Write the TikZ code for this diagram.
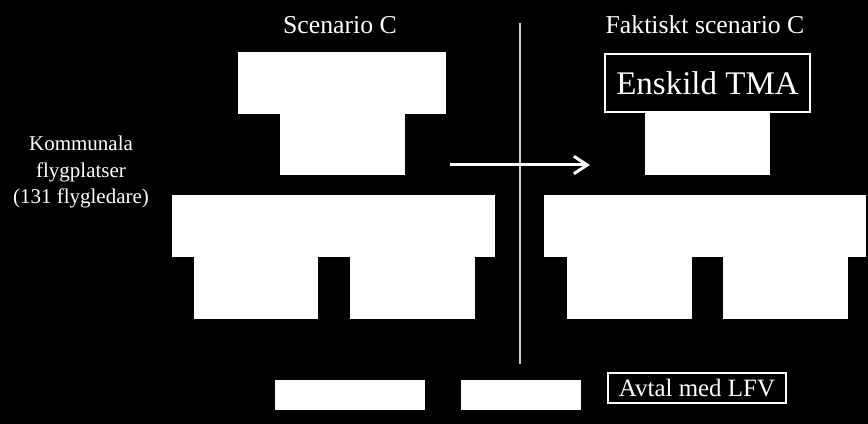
\documentclass[tikz,border=0pt]{standalone}
\usepackage{fontspec}
\setmainfont{Liberation Serif}
\usetikzlibrary{arrows.meta}
\begin{document}
\begin{tikzpicture}[x=0.75pt,y=-0.75pt,
  wbox/.style={fill=white,draw=none,inner sep=0pt,outer sep=0pt},
  kbox/.style={fill=black,draw=white,line width=1.5pt,inner sep=0pt,outer sep=0pt,text=white},
  lbl/.style={text=white,inner sep=0pt,align=center}]
\fill[black] (0,0) rectangle (868,424);
\useasboundingbox (0,0) rectangle (868,424);
% titles
\node[lbl,font=\fontsize{19.3pt}{23pt}\selectfont] (tl) at (340,25) {Scenario C};
\node[lbl,font=\fontsize{19.3pt}{23pt}\selectfont] (tr) at (705,25) {Faktiskt scenario C};
\node[lbl,font=\fontsize{15.75pt}{20pt}\selectfont] (kom) at (81,172) {Kommunala\\flygplatser\\(131 flygledare)};
% left scenario
\node[wbox,minimum width=156pt,minimum height=46.5pt] (t1) at (342,83) {};
\node[wbox,minimum width=93.75pt,minimum height=45.75pt] (m1) at (342.5,144.5) {};
\node[wbox,minimum width=242.25pt,minimum height=46.5pt] (b1) at (333.5,226) {};
\node[wbox,minimum width=93pt,minimum height=46.5pt] (l1) at (256,288) {};
\node[wbox,minimum width=93.75pt,minimum height=46.5pt] (r1) at (412.5,288) {};
\node[wbox,minimum width=112.5pt,minimum height=22.5pt] (bl) at (350,395) {};
\node[wbox,minimum width=90pt,minimum height=22.5pt] (br) at (521,395) {};
% right scenario
\node[kbox,minimum width=153.75pt,minimum height=43.5pt,font=\fontsize{24.75pt}{28pt}\selectfont] (tma) at (707.5,83) {Enskild TMA};
\node[wbox,minimum width=93.75pt,minimum height=46.5pt] (m2) at (707.5,144) {};
\node[wbox,minimum width=241.5pt,minimum height=46.5pt] (b2) at (705,226) {};
\node[wbox,minimum width=93.75pt,minimum height=46.5pt] (l2) at (629.5,288) {};
\node[wbox,minimum width=93.75pt,minimum height=46.5pt] (r2) at (785.5,288) {};
\node[kbox,minimum width=133.5pt,minimum height=22.5pt,font=\fontsize{18.7pt}{22pt}\selectfont] (lfv) at (697,388) {Avtal med LFV};
% divider and arrow
\coordinate (vt) at (520,23);
\coordinate (vb) at (520,364);
\draw[white!80!black,line width=0.9pt] (vt) -- (vb);
\coordinate (as) at (450,165);
\coordinate (ae) at (590,165);
\draw[white,line width=2.25pt,-{Straight Barb[length=10pt,width=13pt,line width=2.25pt]}] (as) -- (ae);
\end{tikzpicture}
\end{document}
